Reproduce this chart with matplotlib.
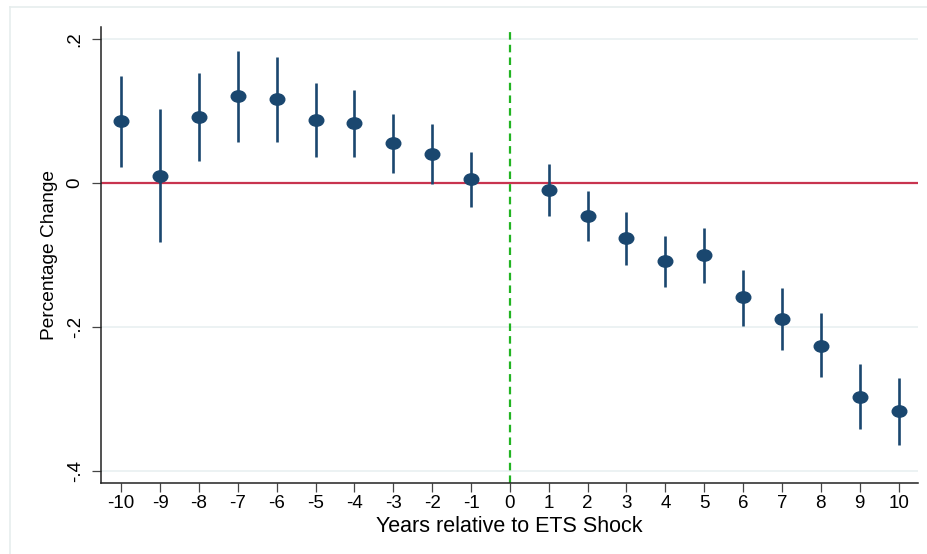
import matplotlib.pyplot as plt
import numpy as np
from matplotlib.path import Path
from matplotlib.lines import Line2D
from matplotlib.transforms import Affine2D

plt.rcParams['font.family'] = ['Liberation Sans', 'DejaVu Sans']
plt.rcParams['axes.unicode_minus'] = False

# event-time coefficients and 95% CI
years = [-10, -9, -8, -7, -6, -5, -4, -3, -2, -1, 1, 2, 3, 4, 5, 6, 7, 8, 9, 10]
coef = [0.086, 0.010, 0.092, 0.121, 0.117, 0.0875, 0.083, 0.055, 0.040, 0.005,
        -0.010, -0.046, -0.077, -0.108, -0.100, -0.159, -0.189, -0.226, -0.297, -0.317]
ci_hi = [0.149, 0.103, 0.153, 0.183, 0.175, 0.139, 0.129, 0.096, 0.082, 0.043,
         0.027, -0.011, -0.040, -0.073, -0.063, -0.121, -0.146, -0.181, -0.251, -0.271]
ci_lo = [0.022, -0.082, 0.031, 0.057, 0.057, 0.036, 0.036, 0.014, -0.002, -0.033,
         -0.046, -0.081, -0.114, -0.144, -0.139, -0.199, -0.232, -0.270, -0.341, -0.364]

yticks = [-0.4, -0.2, 0, 0.2]
ytick_labels = ['-.4', '-.2', '0', '.2']
xticks = list(range(-10, 11))

navy = '#1a476f'

fig = plt.figure(figsize=(9.27, 5.54), dpi=100)
ax = fig.add_axes([101 / 927, 71 / 554, 817 / 927, 456 / 554])

# squashed circle, like Stata's stretched markers
ell = Path.unit_circle().transformed(Affine2D().scale(1.0, 0.78))

for y in yticks:
    ax.axhline(y, color='#e9f0f1', lw=1.2, zorder=0)

ax.axhline(0, color='#c8344f', lw=1.6, zorder=1)
ax.axvline(0, color='#22b422', lw=1.6, linestyle=(0, (3.4, 2.3)), zorder=1)

ax.vlines(years, ci_lo, ci_hi, color=navy, lw=1.9, zorder=2)
ax.plot(years, coef, linestyle='none', marker=ell, markersize=10.5,
        color=navy, zorder=3)

ax.set_xlim(-10.52, 10.5)
ax.set_ylim(-0.4167, 0.2167)
ax.set_xticks(xticks)
ax.set_yticks(yticks)
ax.set_yticklabels(ytick_labels)
ax.tick_params(axis='both', direction='out', length=6.5, width=0.9,
               color='#444444', labelsize=13.5)
ax.tick_params(axis='y', labelrotation=90, pad=6)
for lab in ax.get_yticklabels():
    lab.set_va('center')
ax.tick_params(axis='x', pad=2.5)

for s in ['top', 'right']:
    ax.spines[s].set_visible(False)
for s in ['left', 'bottom']:
    ax.spines[s].set_linewidth(1.1)
    ax.spines[s].set_color('#222222')

ax.set_xlabel('Years relative to ETS Shock', fontsize=15.5, labelpad=2.5)
ax.set_ylabel('Percentage Change', fontsize=13.8, labelpad=6)

# faint outer frame of the graph region
fig.add_artist(Line2D([10 / 927, 1], [1 - 7 / 554, 1 - 7 / 554],
                      transform=fig.transFigure, color='#e6eded', lw=1.2))
fig.add_artist(Line2D([10 / 927, 10 / 927], [0, 1 - 7 / 554],
                      transform=fig.transFigure, color='#e6eded', lw=1.2))

fig.savefig('out.png', dpi=100)
